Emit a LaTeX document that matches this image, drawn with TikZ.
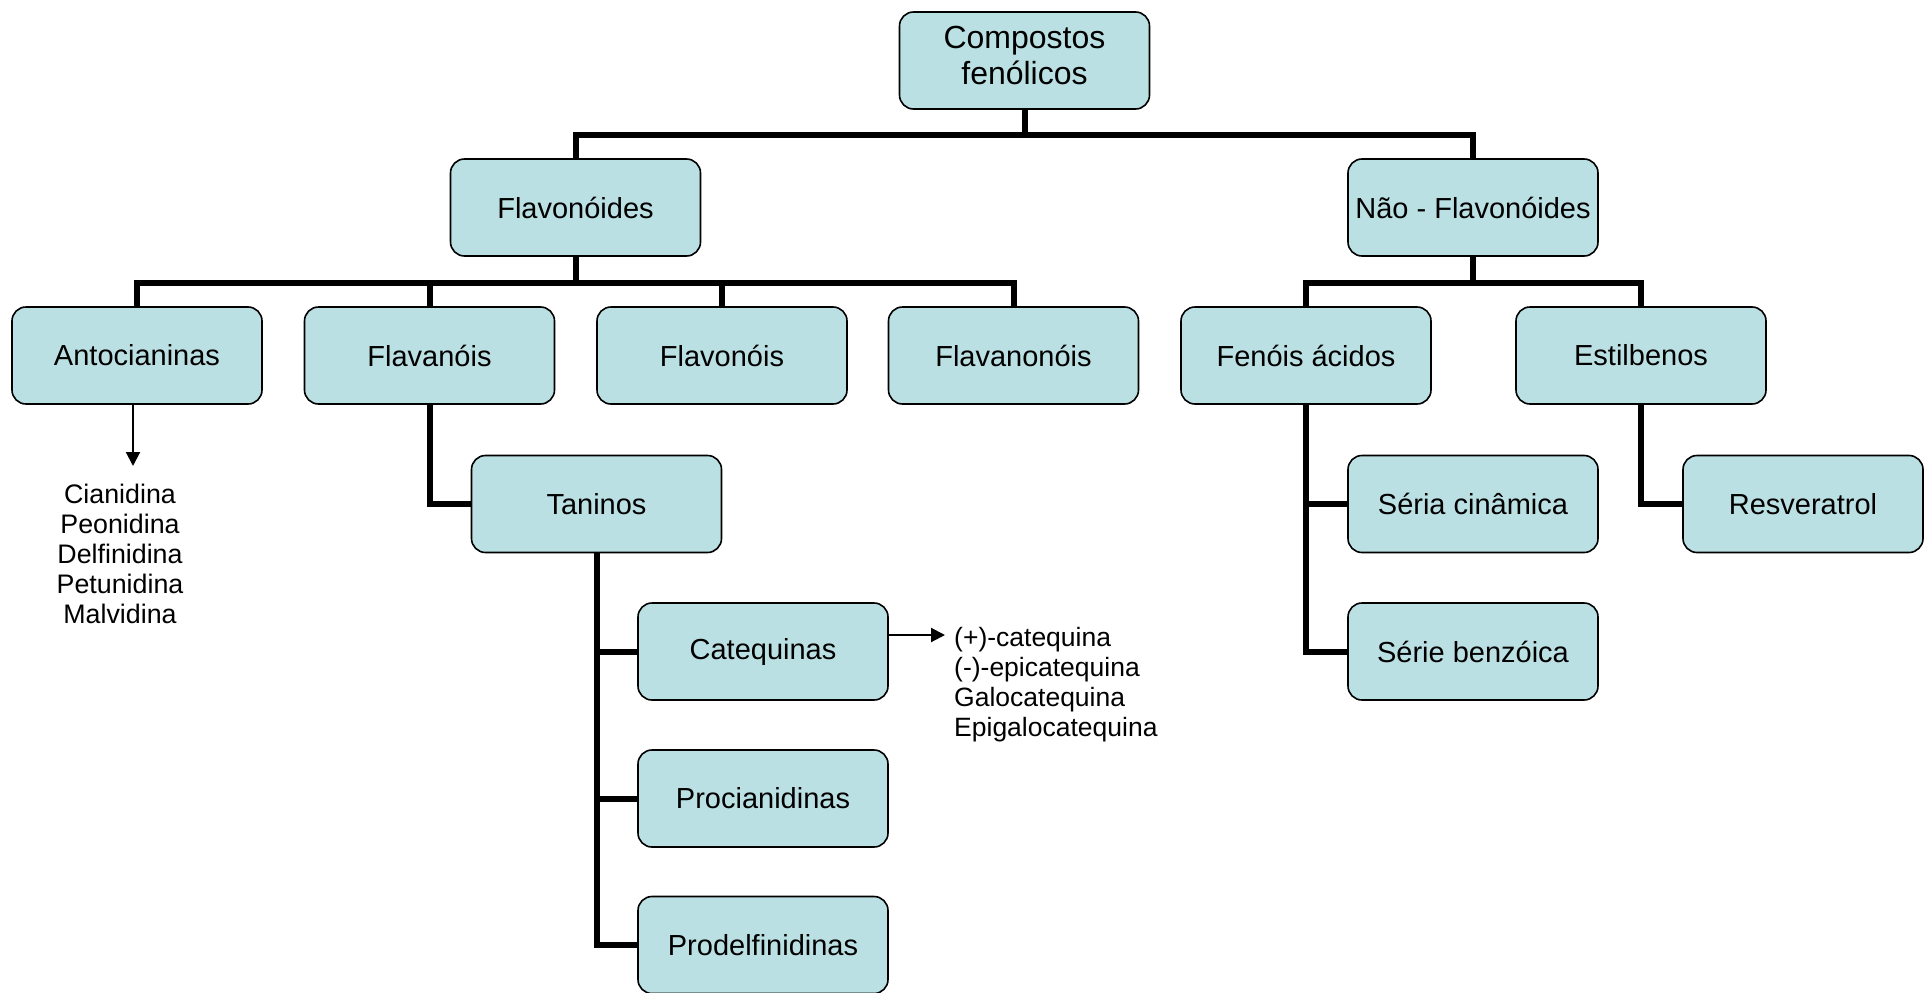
\documentclass[tikz,border=0pt]{standalone}
\usepackage{fontspec}
\setmainfont{Liberation Sans}
\usetikzlibrary{arrows.meta}
\definecolor{boxfill}{RGB}{187,224,227}
\tikzset{
  box/.style={draw=black, line width=1.6pt, fill=boxfill, rounded corners=14pt,
    minimum width=250pt, minimum height=97pt, inner sep=0pt, align=center,
    font=\fontsize{29}{33}\selectfont},
  conn/.style={line width=6pt},
  arr/.style={line width=2pt, -{Triangle[length=14pt,width=14pt]}},
  listtext/.style={inner sep=0pt, align=center}
}
\begin{document}
\begin{tikzpicture}[x=1pt,y=-1pt]
\useasboundingbox (0,0) rectangle (1925,993);
% nodes
\node[box] (comp) at (1024.5,60.5) {};
\node[inner sep=0pt, align=center, font=\fontsize{32}{36}\selectfont] (comptext) at (1024.5,55) {Compostos\\fenólicos};
\node[box] (flav) at (575.5,207.5) {Flavonóides};
\node[box] (nao) at (1473,207.5) {Não - Flavonóides};
\node[box] (anto) at (137,355.5) {Antocianinas};
\node[box] (flavanois) at (429.5,355.5) {Flavanóis};
\node[box] (flavonois) at (722,355.5) {Flavonóis};
\node[box] (flavanonois) at (1013.5,355.5) {Flavanonóis};
\node[box] (fenois) at (1306,355.5) {Fenóis ácidos};
\node[box] (estil) at (1641,355.5) {Estilbenos};
\node[box] (taninos) at (596.5,504) {Taninos};
\node[box] (cinam) at (1473,504) {Séria cinâmica};
\node[box, minimum width=240pt] (resv) at (1803,504) {Resveratrol};
\node[box] (cateq) at (763,651.5) {Catequinas};
\node[box] (benz) at (1473,651.5) {Série benzóica};
\node[box] (procian) at (763,798.5) {Procianidinas};
\node[box] (prodelf) at (763,945) {Prodelfinidinas};
% lists
\node[listtext, font=\fontsize{26.8}{30}\selectfont] (antolist) at (120,554)
  {Cianidina\\Peonidina\\Delfinidina\\Petunidina\\Malvidina};
\node[listtext, align=left, anchor=west, font=\fontsize{26.5}{30}\selectfont] (catlist) at (954,685)
  {(+)-catequina\\(-)-epicatequina\\Galocatequina\\Epigalocatequina};
% helper coordinates
\coordinate (b1) at (0,135);
\coordinate (b2) at (0,283);
\coordinate (antotip) at (133,466);
\coordinate (cattip) at (945,635);
% connectors
\draw[conn] (comp.south) -- (comp.south |- b1);
\draw[conn] (flav.north) |- (b1 -| nao.north) -- (nao.north);
\draw[conn] (flav.south) -- (flav.south |- b2);
\draw[conn] (anto.north) |- (b2 -| flavanonois.north) -- (flavanonois.north);
\draw[conn] (flavanois.north) -- (flavanois.north |- b2);
\draw[conn] (flavonois.north) -- (flavonois.north |- b2);
\draw[conn] (nao.south) -- (nao.south |- b2);
\draw[conn] (fenois.north) |- (b2 -| estil.north) -- (estil.north);
\draw[conn] (flavanois.south) |- (taninos.west);
\draw[conn] (taninos.south) |- (prodelf.west);
\draw[conn] (taninos.south |- cateq.west) -- (cateq.west);
\draw[conn] (taninos.south |- procian.west) -- (procian.west);
\draw[conn] (fenois.south) |- (benz.west);
\draw[conn] (fenois.south |- cinam.west) -- (cinam.west);
\draw[conn] (estil.south) |- (resv.west);
% arrows
\draw[arr] (anto.south -| antotip) -- (antotip);
\draw[arr] (cateq.east |- cattip) -- (cattip);
\end{tikzpicture}
\end{document}
